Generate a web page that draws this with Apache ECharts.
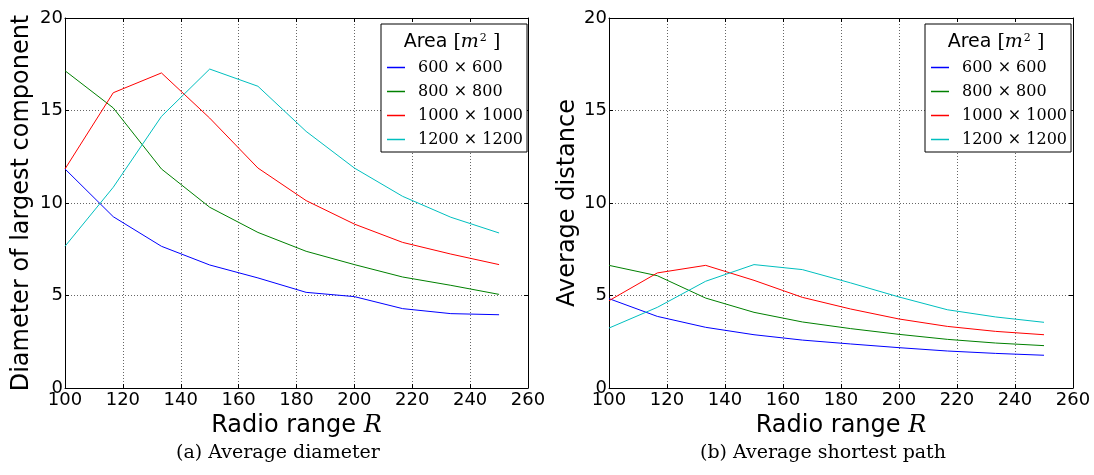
<!DOCTYPE html>
<html>
<head>
<meta charset="utf-8">
<script src="https://cdn.jsdelivr.net/npm/echarts@6/dist/echarts.min.js"></script>
<style>
  html, body { margin: 0; padding: 0; background: #fff; }
  #chart { width: 1094px; height: 475px; }
</style>
</head>
<body>
<div id="chart"></div>
<script>
// Radio range values (x) shared by every curve
const radioRange = [100, 116.67, 133.33, 150, 166.67, 183.33, 200, 216.67, 233.33, 250];

// Deployment areas (legend entries)
const areaNames = ['600 × 600', '800 × 800', '1000 × 1000', '1200 × 1200'];
const areaColors = ['#0000ff', '#008000', '#ff0000', '#00bfbf'];

// (a) Average diameter of the largest component
const diam600  = [11.84, 9.26, 7.66, 6.65, 5.95, 5.17, 4.94, 4.29, 4.02, 3.96];
const diam800  = [17.15, 15.14, 11.84, 9.77, 8.41, 7.39, 6.67, 6.00, 5.55, 5.06];
const diam1000 = [11.84, 15.96, 17.03, 14.59, 11.89, 10.13, 8.86, 7.87, 7.24, 6.67];
const diam1200 = [7.66, 10.85, 14.68, 17.24, 16.31, 13.87, 11.89, 10.36, 9.23, 8.38];

// (b) Average shortest path length
const dist600  = [4.83, 3.87, 3.28, 2.88, 2.59, 2.38, 2.18, 2.00, 1.87, 1.77];
const dist800  = [6.63, 6.07, 4.86, 4.09, 3.57, 3.21, 2.90, 2.63, 2.43, 2.29];
const dist1000 = [4.72, 6.22, 6.63, 5.82, 4.90, 4.27, 3.73, 3.33, 3.06, 2.88];
const dist1200 = [3.24, 4.36, 5.77, 6.67, 6.40, 5.68, 4.92, 4.23, 3.84, 3.55];

// Axis ticks
const xTicks = { min: 100, max: 260, interval: 20 };
const yTicks = { min: 0, max: 20, interval: 5 };

const panels = [
  { grid: { left: 65, right: 566, top: 18, bottom: 87 }, yName: 'Diameter of largest component', yGap: 31,
    series: [diam600, diam800, diam1000, diam1200], legendLeft: 381, titleX: 452,
    caption: '(a) Average diameter', captionX: 278 },
  { grid: { left: 609, right: 21, top: 18, bottom: 87 }, yName: 'Average distance', yGap: 29,
    series: [dist600, dist800, dist1000, dist1200], legendLeft: 925, titleX: 996,
    caption: '(b) Average shortest path', captionX: 823 }
];

const sans = 'DejaVu Sans';
const serif = 'DejaVu Serif';

const grids = [], xAxes = [], yAxes = [], series = [], legends = [], graphics = [];

const tickInside = { show: true, inside: true, length: 4, lineStyle: { color: '#000', width: 1 } };
const gridDots = { show: true, lineStyle: { color: '#666', width: 1, type: [1, 2] } };

panels.forEach((p, i) => {
  grids.push(Object.assign({ containLabel: false }, p.grid));

  // bottom axis with labels, top axis only for the frame and ticks
  xAxes.push({
    type: 'value', gridIndex: i, position: 'bottom', min: xTicks.min, max: xTicks.max, interval: xTicks.interval,
    name: 'Radio range {r|R}', nameLocation: 'middle', nameGap: 20,
    nameTextStyle: { fontFamily: sans, fontSize: 24, color: '#000',
      rich: { r: { fontFamily: serif, fontStyle: 'italic', fontSize: 24, color: '#000' } } },
    axisLine: { show: true, onZero: false, lineStyle: { color: '#000', width: 1 } },
    axisTick: tickInside,
    axisLabel: { fontFamily: sans, fontSize: 18, color: '#000', margin: 3 },
    splitLine: gridDots
  });
  xAxes.push({
    type: 'value', gridIndex: i, position: 'top', min: xTicks.min, max: xTicks.max, interval: xTicks.interval,
    axisLine: { show: true, onZero: false, lineStyle: { color: '#000', width: 1 } },
    axisTick: tickInside, axisLabel: { show: false }, splitLine: { show: false }
  });

  yAxes.push({
    type: 'value', gridIndex: i, position: 'left', min: yTicks.min, max: yTicks.max, interval: yTicks.interval,
    name: p.yName, nameLocation: 'middle', nameGap: p.yGap,
    nameTextStyle: { fontFamily: sans, fontSize: 24, color: '#000' },
    axisLine: { show: true, onZero: false, lineStyle: { color: '#000', width: 1 } },
    axisTick: tickInside,
    axisLabel: { fontFamily: sans, fontSize: 18, color: '#000', margin: 2 },
    splitLine: gridDots
  });
  yAxes.push({
    type: 'value', gridIndex: i, position: 'right', min: yTicks.min, max: yTicks.max, interval: yTicks.interval,
    axisLine: { show: true, onZero: false, lineStyle: { color: '#000', width: 1 } },
    axisTick: tickInside, axisLabel: { show: false }, splitLine: { show: false }
  });

  p.series.forEach((vals, k) => {
    series.push({
      type: 'line', name: areaNames[k], xAxisIndex: 2 * i, yAxisIndex: 2 * i,
      data: radioRange.map((x, j) => [x, vals[j]]),
      showSymbol: false, symbol: 'none', silent: true, animation: false,
      lineStyle: { color: areaColors[k], width: 1 }, itemStyle: { color: areaColors[k] }
    });
  });

  legends.push({
    orient: 'vertical', left: p.legendLeft, top: 24,
    padding: [35, 4, 4, 6], itemGap: 7,
    backgroundColor: '#fff', borderColor: '#000', borderWidth: 1, borderRadius: 0,
    icon: 'rect', itemWidth: 18, itemHeight: 1.5,
    textStyle: { fontFamily: serif, fontSize: 16, lineHeight: 17, color: '#000', padding: [0, 0, 0, 8] },
    data: areaNames.map((n, k) => ({ name: n, itemStyle: { color: areaColors[k] } })),
    selectedMode: false, z: 5
  });

  // legend heading
  graphics.push({
    type: 'text', x: p.titleX, y: 42, z: 100,
    style: {
      text: '{a|Area }{b|[}{m|m}{s|2}{b| ]}',
      align: 'center', verticalAlign: 'middle',
      rich: {
        a: { fontFamily: sans, fontSize: 19, fill: '#000' },
        b: { fontFamily: serif, fontSize: 19, fill: '#000' },
        m: { fontFamily: serif, fontStyle: 'italic', fontSize: 19, fill: '#000' },
        s: { fontFamily: serif, fontSize: 11, fill: '#000', verticalAlign: 'top', padding: [0, 0, 8, 1] }
      }
    }
  });

  // subfigure caption
  graphics.push({
    type: 'text', x: p.captionX, y: 453, z: 100,
    style: { text: p.caption, align: 'center', verticalAlign: 'middle',
      fontFamily: serif, fontSize: 19, fill: '#000' }
  });
});

const chart = echarts.init(document.getElementById('chart'), null, { renderer: 'canvas' });
chart.setOption({
  backgroundColor: '#fff',
  animation: false,
  grid: grids,
  xAxis: xAxes,
  yAxis: yAxes,
  legend: legends,
  series: series,
  graphic: graphics
});
</script>
</body>
</html>
